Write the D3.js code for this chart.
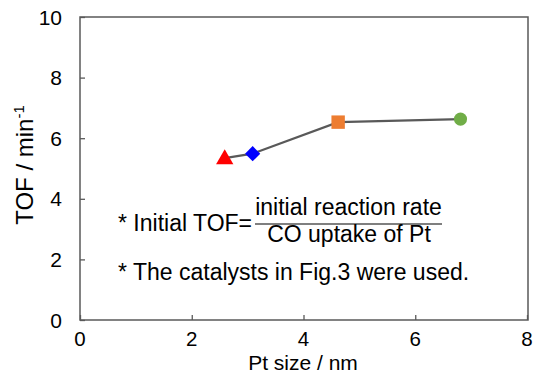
<!DOCTYPE html>
<html><head><meta charset="utf-8">
<script src="https://cdn.jsdelivr.net/npm/d3@7"></script>
<style>body{margin:0;background:#fff}svg{display:block}text{font-family:"Liberation Sans",Arial,sans-serif;fill:#000}</style>
</head><body>
<svg id="c" width="536" height="374"></svg>
<script>
const sizes = [2.59, 3.09, 4.62, 6.81];
const tof = [5.34, 5.49, 6.53, 6.63];
const shapes = ["triangle", "diamond", "square", "circle"];
const colors = ["#FF0000", "#0000FF", "#ED7D31", "#70AD47"];
const xTicks = [0, 2, 4, 6, 8];
const yTicks = [0, 2, 4, 6, 8, 10];

const svg = d3.select("#c");
const m = {l: 80, r: 528, t: 17, b: 320};
const x = d3.scaleLinear().domain([0, 8]).range([m.l, 527]);
const y = d3.scaleLinear().domain([0, 10]).range([m.b, m.t]);

svg.append("rect").attr("x", m.l).attr("y", m.t).attr("width", m.r - m.l).attr("height", m.b - m.t)
  .attr("fill", "none").attr("stroke", "#595959").attr("stroke-width", 1.5);

const ya = svg.append("g").attr("transform", `translate(${m.l},0)`)
  .call(d3.axisRight(y).tickValues(yTicks).tickSize(5).tickFormat(""));
ya.select(".domain").remove();
ya.selectAll("line").attr("stroke", "#595959").attr("stroke-width", 1.3);
svg.selectAll(".yl").data(yTicks).join("text").attr("class", "yl")
  .attr("x", 62).attr("y", d => y(d) + 7.5).attr("text-anchor", "end").attr("font-size", 21).text(d => d);

const xa = svg.append("g").attr("transform", `translate(0,${m.b})`)
  .call(d3.axisTop(x).tickValues(xTicks).tickSize(5).tickFormat(""));
xa.select(".domain").remove();
xa.selectAll("line").attr("stroke", "#595959").attr("stroke-width", 1.3);
svg.selectAll(".xl").data(xTicks).join("text").attr("class", "xl")
  .attr("x", d => x(d)).attr("y", 346).attr("text-anchor", "middle").attr("font-size", 20.5).text(d => d);

svg.append("text").attr("x", 303).attr("y", 369.5).attr("text-anchor", "middle")
  .attr("font-size", 21).text("Pt size / nm");

const yt = svg.append("text").attr("transform", `translate(33,165) rotate(-90)`).attr("text-anchor", "middle").attr("font-size", 24);
yt.append("tspan").text("TOF / min");
yt.append("tspan").attr("dy", -9).attr("font-size", 15).text("-1");

const pts = sizes.map((s, i) => ({x: s, y: tof[i], shape: shapes[i], color: colors[i]}));
svg.append("path").datum(pts)
  .attr("d", d3.line().x(d => x(d.x)).y(d => y(d.y)))
  .attr("fill", "none").attr("stroke", "#595959").attr("stroke-width", 2.25);

const sym = {triangle: d3.symbolTriangle, diamond: d3.symbolSquare, square: d3.symbolSquare, circle: d3.symbolCircle};
const area = {triangle: 130, diamond: 115, square: 180, circle: 135};
svg.selectAll(".pt").data(pts).join("path").attr("class", "pt")
  .attr("transform", d => `translate(${x(d.x)},${y(d.y) + (d.shape === "triangle" ? 1 : 0)})` + (d.shape === "diamond" ? " rotate(45)" : ""))
  .attr("d", d => d3.symbol().type(sym[d.shape]).size(area[d.shape])())
  .attr("fill", d => d.color);

// annotation
svg.append("text").attr("x", 118).attr("y", 231).attr("font-size", 23).text("* Initial TOF=");
svg.append("text").attr("x", 348.5).attr("y", 215).attr("text-anchor", "middle").attr("font-size", 23).text("initial reaction rate");
svg.append("line").attr("x1", 255).attr("x2", 442).attr("y1", 224).attr("y2", 224).attr("stroke", "#000").attr("stroke-width", 1.2);
svg.append("text").attr("x", 349).attr("y", 241.5).attr("text-anchor", "middle").attr("font-size", 23).text("CO uptake of Pt");
svg.append("text").attr("x", 118).attr("y", 280).attr("font-size", 23).text("* The catalysts in Fig.3 were used.");
</script>
</body></html>
